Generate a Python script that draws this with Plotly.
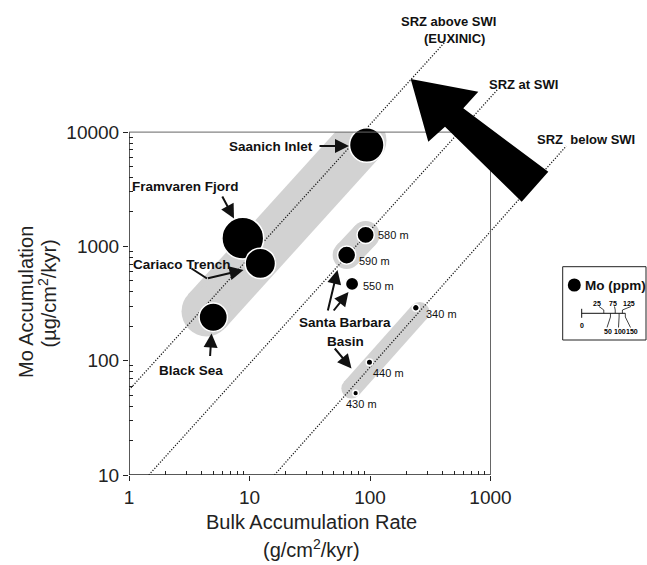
import numpy as np
import plotly.graph_objects as go

# ---------------- data ----------------
site_labels = ["Black Sea", "Framvaren Fjord", "Cariaco Trench", "Saanich Inlet",
               "580 m", "590 m", "550 m", "340 m", "440 m", "430 m"]
bulk_rate = [5.0, 8.8, 12.3, 94.0, 92.0, 64.0, 71.0, 240.0, 99.0, 76.0]   # g/cm2/kyr
mo_accum = [240, 1180, 710, 7700, 1260, 840, 470, 290, 97, 52]           # ug/cm2/kyr
mo_ppm = [48, 134, 58, 81, 13, 15, 6.6, 1.2, 1.0, 0.7]                   # Mo (ppm)

# shaded groupings: end points of each band's centre line
band_x = [[4.4, 85.0], [64.0, 92.0], [70.0, 258.0]]
band_y = [[270, 8480], [840, 1260], [57, 267]]

# guide lines for the position of the sulfate reduction zone
guide_x = [[1.0, 415.0], [1.46, 1150.0], [16.1, 4250.0]]
guide_y = [[55.5, 60700], [10, 23700], [10, 7550]]

x_tickvals = [1, 10, 100, 1000]
x_ticktext = ["1", "10", "100", "1000"]
y_tickvals = [10, 100, 1000, 10000]
y_ticktext = ["10", "100", "1000", "10000"]

legend_ppm = [25, 50, 75, 100, 125, 150]

# ---------------- layout geometry ----------------
FIG_W, FIG_H = 647, 565
L, B = 129, 90
W, H = FIG_W - L, FIG_H - B
X_DEC, Y_DEC = 120.5, 114.3          # pixels per decade
FONT = "Liberation Sans, Arial, Helvetica, sans-serif"
INK = "#111111"
GRAY = "#d2d2d2"


def bubble_px(ppm):
    """Bubble diameter (px) for a Mo concentration."""
    return 6.5 * np.power(ppm, 0.38)


def paper(px, py):
    return (px - L) / W, (H - py) / H


fig = go.Figure()

# shaded bands (thick line with round ends)
for (bx, by), wpx in zip(zip(band_x, band_y), (50, 28, 20)):
    fig.add_trace(go.Scatter(
        x=bx, y=by, mode="lines+markers",
        line=dict(color=GRAY, width=wpx),
        marker=dict(color=GRAY, size=wpx, opacity=1, line=dict(width=0)),
        hoverinfo="skip", showlegend=False))

# keep the bands inside the frame
fig.add_trace(go.Scatter(
    x=[1, 1000, 1000, 1, 1], y=[10000, 10000, 1e6, 1e6, 10000],
    fill="toself", fillcolor="white", mode="none",
    hoverinfo="skip", showlegend=False))

# dotted guide lines
for gx, gy in zip(guide_x, guide_y):
    fig.add_trace(go.Scatter(
        x=gx, y=gy, mode="lines",
        line=dict(color="#1a1a1a", width=1.3, dash="1.2px,1.6px"),
        hoverinfo="skip", showlegend=False))

# sites
fig.add_trace(go.Scatter(
    x=bulk_rate, y=mo_accum, mode="markers", text=site_labels,
    marker=dict(size=[bubble_px(p) for p in mo_ppm], color="black", opacity=1,
                line=dict(color="white", width=1.5)),
    hoverinfo="skip", showlegend=False))

# frame
fig.add_trace(go.Scatter(x=[1, 1, 1000], y=[10000, 10, 10], mode="lines",
                         line=dict(color="#222222", width=1.5),
                         hoverinfo="skip", showlegend=False))
fig.add_trace(go.Scatter(x=[1, 1000, 1000], y=[10000, 10000, 10], mode="lines",
                         line=dict(color="#666666", width=1),
                         hoverinfo="skip", showlegend=False))

annotations = []
shapes = []


def text(t, px, py, size=13, bold=True, xanchor="center", angle=0, color=INK):
    xp, yp = paper(px, py)
    annotations.append(dict(
        x=xp, y=yp, xref="paper", yref="paper", text=t, showarrow=False,
        xanchor=xanchor, yanchor="middle", textangle=angle,
        font=dict(family=FONT, size=size, color=color,
                  weight=700 if bold else 400)))


def arrow(tail, tip, width=2.0):
    xp, yp = paper(*tip)
    annotations.append(dict(
        x=xp, y=yp, xref="paper", yref="paper", text="",
        showarrow=True, ax=tail[0] - tip[0], ay=tail[1] - tip[1],
        axref="pixel", ayref="pixel",
        arrowhead=2, arrowsize=1.4, arrowwidth=width, arrowcolor=INK, standoff=0))


def seg(points, width=1.0, color=INK):
    d = "M " + " L ".join("%.5f,%.5f" % paper(x, y) for x, y in points)
    shapes.append(dict(type="path", path=d, xref="paper", yref="paper",
                       line=dict(color=color, width=width)))


# site labels with pointers
text("Saanich Inlet", 271, 146, size=13.5)
arrow((318, 146), (349, 146))
text("Framvaren Fjord", 185.5, 187, size=13.5)
arrow((221.5, 195), (234, 218.5))
text("Cariaco Trench", 182, 264, size=13.5)
seg([(191.5, 268.5), (207, 278.5)], width=2.0)
arrow((206.5, 278.5), (243.5, 270))
text("Black Sea", 190.5, 370.5, size=13.5)
arrow((210, 357.5), (211.5, 333.5))
text("Santa Barbara", 344.5, 322.5, size=13.5)
text("Basin", 345, 341, size=13.5)
arrow((327.5, 312), (337.5, 270))
arrow((332.5, 312), (348.5, 292))
arrow((333.5, 347), (351.5, 368.5))

# depth labels next to Santa Barbara Basin cores
depth_offsets = {"580 m": (10.5, 0), "590 m": (10.5, -5.5), "550 m": (8.5, -2.5),
                 "340 m": (8, -6.5), "440 m": (1.5, -10.5), "430 m": (-12, -10.5)}
for name, xv, yv in zip(site_labels, bulk_rate, mo_accum):
    if name in depth_offsets:
        dx, dy = depth_offsets[name]
        annotations.append(dict(
            x=np.log10(xv), y=np.log10(yv), xref="x", yref="y", text=name,
            showarrow=False, xanchor="left", yanchor="middle",
            xshift=dx, yshift=dy,
            font=dict(family=FONT, size=11, color=INK)))

# guide line labels
text("SRZ above SWI", 448, 22)
text("(EUXINIC)", 454, 38.5)
text("SRZ at SWI", 523, 84)
text("SRZ\u00a0 below SWI", 586, 139)

# big arrow
arrow_pts = [(410.7, 79), (478.3, 91.7), (463.3, 108.3), (548.3, 171.7),
             (521.7, 201.7), (445, 126.7), (428.3, 141.7)]
shapes.append(dict(
    type="path", xref="paper", yref="paper",
    path="M " + " L ".join("%.5f,%.5f" % paper(x, y) for x, y in arrow_pts) + " Z",
    fillcolor="black", line=dict(width=0), layer="above"))

# axis titles
text("Mo Accumulation", 25.5, 302.5, size=20, bold=False, angle=-90, color="#222")
text("(\u00b5g/cm<sup>2</sup>/kyr)", 46.5, 294, size=20, bold=False, angle=-90, color="#222")
text("Bulk Accumulation Rate", 311.5, 522, size=20, bold=False, color="#222")
text("(g/cm<sup>2</sup>/kyr)", 311.5, 548, size=20, bold=False, color="#222")

# size legend
x0p, y0p = paper(562.7, 340)
x1p, y1p = paper(646, 266.7)
shapes.append(dict(type="rect", xref="paper", yref="paper", x0=x0p, y0=y0p, x1=x1p, y1=y1p,
                   line=dict(color="#222", width=1), fillcolor="white"))
cx0, cy0 = paper(567.8, 291.6)
cx1, cy1 = paper(580.8, 278.4)
shapes.append(dict(type="circle", xref="paper", yref="paper", x0=cx0, y0=cy0, x1=cx1, y1=cy1,
                   fillcolor="black", line=dict(width=0)))
text("Mo (ppm)", 583, 285, size=13.5, xanchor="left")

sx0, sy = 581.7, 313.3
seg([(sx0, sy), (sx0 + bubble_px(legend_ppm[-1]), sy)], width=1)
seg([(sx0, sy - 4.5), (sx0, sy + 4.5)], width=1)
text("0", sx0, 325.5, size=7, color="black")
label_x = {25: 597, 50: 608, 75: 612.5, 100: 619.5, 125: 629, 150: 631.5}
for i, v in enumerate(legend_ppm):
    tx = sx0 + bubble_px(v)
    lx = label_x[v]
    if i % 2 == 0:
        text(str(v), lx, 303, size=7, color="black")
        seg([(lx + 2, 306.5), (tx, 310), (tx, sy)], width=0.8)
    else:
        text(str(v), lx, 331, size=7, color="black")
        seg([(lx - 1, 327.5), (tx, 317), (tx, sy)], width=0.8)

x_minor = [m * 10 ** k for k in range(3) for m in range(2, 10)]
y_minor = [m * 10 ** k for k in range(1, 4) for m in range(2, 10)]

axis_common = dict(
    type="log", showgrid=False, zeroline=False, showline=False,
    tickmode="array", ticks="outside", ticklen=5, tickwidth=1.2, tickcolor="#222",
    tickfont=dict(family=FONT, size=19, color="#222"),
    automargin=False, fixedrange=True)

fig.update_layout(
    width=FIG_W, height=FIG_H,
    margin=dict(l=L, r=0, t=0, b=B, pad=0),
    paper_bgcolor="white", plot_bgcolor="white",
    showlegend=False, hovermode=False,
    xaxis=dict(axis_common, range=[0, W / X_DEC],
               tickvals=x_tickvals, ticktext=x_ticktext,
               minor=dict(tickmode="array", tickvals=x_minor, ticks="inside",
                          ticklen=4, tickwidth=1, tickcolor="#222", showgrid=False)),
    yaxis=dict(axis_common, range=[1, 1 + H / Y_DEC],
               tickvals=y_tickvals, ticktext=y_ticktext,
               minor=dict(tickmode="array", tickvals=y_minor, ticks="inside",
                          ticklen=4, tickwidth=1, tickcolor="#222", showgrid=False)),
    annotations=annotations,
    shapes=shapes,
)

fig.write_html("out.html", config={"displayModeBar": False})
